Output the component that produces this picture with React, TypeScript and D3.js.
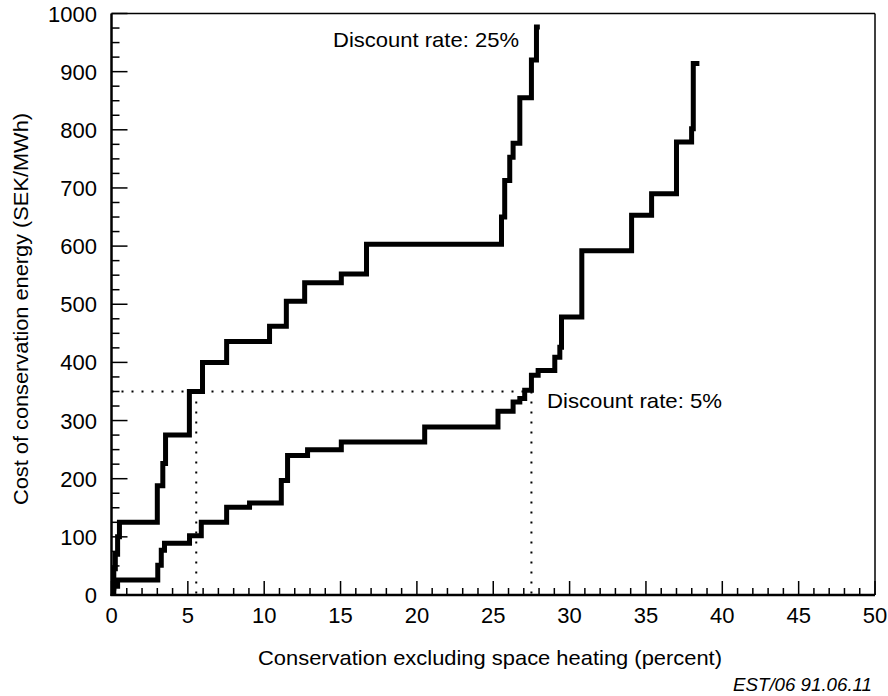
import React from "react";
import * as d3 from "d3";

// Step curves: [percent where the step occurs, new cost level]
const rate25: [number, number][] = [
  [0, 12], [0.15, 45], [0.25, 70], [0.4, 100], [0.52, 125], [3.0, 188], [3.36, 226], [3.54, 275],
  [5.1, 350], [5.96, 400], [7.54, 436], [10.35, 462], [11.45, 505], [12.65, 537], [15.05, 552],
  [16.7, 603], [25.54, 650], [25.75, 713], [26.08, 753], [26.3, 777], [26.74, 855], [27.5, 920],
  [27.83, 977], [28.05, 977],
];
const rate5: [number, number][] = [
  [0, 5], [0.15, 15], [0.4, 26], [3.03, 51], [3.26, 77], [3.47, 89], [5.11, 102], [5.88, 125],
  [7.54, 151], [9.04, 158], [11.12, 197], [11.53, 240], [12.84, 250], [15.05, 263], [20.51, 289],
  [25.31, 316], [26.3, 332], [26.74, 338], [27.06, 352], [27.5, 378], [27.94, 386], [29.03, 409],
  [29.36, 426], [29.47, 478], [30.8, 592], [34.06, 653], [35.37, 690], [37.0, 779], [37.99, 802],
  [38.1, 914], [38.5, 914],
];
const refCost = 350;
const refX = [5.55, 27.5];
const xTickLabels = [0, 5, 10, 15, 20, 25, 30, 35, 40, 45, 50];
const yTickLabels = [0, 100, 200, 300, 400, 500, 600, 700, 800, 900, 1000];

const W = 888, H = 696;
const L = 111.5, R = 875, T = 13.5, B = 595;
const FONT = "'Liberation Sans', Arial, Helvetica, sans-serif";

export default function App() {
  const x = d3.scaleLinear().domain([0, 50]).range([L, R]);
  const y = d3.scaleLinear().domain([0, 1000]).range([B, T]);
  const line = d3.line<[number, number]>().x(d => x(d[0])).y(d => y(d[1])).curve(d3.curveStepAfter);

  const xMinor = d3.range(0, 51, 1);
  const yMinor = d3.range(0, 1001, 25);

  return (
    <svg width={W} height={H} style={{ position: "absolute", left: 0, top: 0, background: "#fff" }}>
      <rect x={0} y={0} width={W} height={H} fill="#fff" />
      {/* frame */}
      <line x1={L} x2={R} y1={T} y2={T} stroke="#000" strokeWidth={1.5} />
      <line x1={R} x2={R} y1={T} y2={B} stroke="#000" strokeWidth={1.5} />
      <line x1={L} x2={L} y1={T} y2={B + 1} stroke="#000" strokeWidth={2.5} />
      <line x1={L - 1} x2={R} y1={B} y2={B} stroke="#000" strokeWidth={2.5} />
      {/* ticks */}
      {xMinor.map(v => (
        <line key={"xt" + v} x1={x(v)} x2={x(v)} y1={B} y2={B - (v % 5 === 0 ? 14 : 7)} stroke="#000" strokeWidth={1.5} />
      ))}
      {yMinor.map(v => (
        <line key={"yt" + v} x1={L} x2={L + (v % 100 === 0 ? 16 : 8)} y1={y(v)} y2={y(v)} stroke="#000" strokeWidth={1.5} />
      ))}
      {xTickLabels.map(v => (
        <text key={"xl" + v} x={x(v)} y={623} textAnchor="middle" fontFamily={FONT} fontSize={22}>{v}</text>
      ))}
      {yTickLabels.map(v => (
        <text key={"yl" + v} x={97} y={y(v) + 8} textAnchor="end" fontFamily={FONT} fontSize={22}>{v}</text>
      ))}
      {/* reference dotted lines */}
      <line x1={L} x2={x(refX[1])} y1={y(refCost)} y2={y(refCost)} stroke="#000" strokeWidth={2} strokeDasharray="2,8" />
      {refX.map(v => (
        <line key={"rv" + v} x1={x(v)} x2={x(v)} y1={y(refCost)} y2={B} stroke="#000" strokeWidth={2} strokeDasharray="2,8" />
      ))}
      {/* curves */}
      <path d={line(rate25) || ""} fill="none" stroke="#000" strokeWidth={5} strokeLinejoin="miter" />
      <path d={line(rate5) || ""} fill="none" stroke="#000" strokeWidth={5} strokeLinejoin="miter" />
      {/* labels */}
      <text x={333} y={47} fontFamily={FONT} fontSize={21} textLength={186} lengthAdjust="spacingAndGlyphs">Discount rate: 25%</text>
      <text x={547} y={408} fontFamily={FONT} fontSize={21} textLength={175} lengthAdjust="spacingAndGlyphs">Discount rate: 5%</text>
      <text x={258} y={665} fontFamily={FONT} fontSize={21} textLength={464} lengthAdjust="spacingAndGlyphs">Conservation excluding space heating (percent)</text>
      <text transform={`translate(28, 505) rotate(-90)`} fontFamily={FONT} fontSize={21} textLength={392} lengthAdjust="spacingAndGlyphs">Cost of conservation energy (SEK/MWh)</text>
      <text x={733} y={691} fontFamily={FONT} fontSize={18} fontStyle="italic" textLength={139} lengthAdjust="spacingAndGlyphs">EST/06 91.06.11</text>
    </svg>
  );
}
